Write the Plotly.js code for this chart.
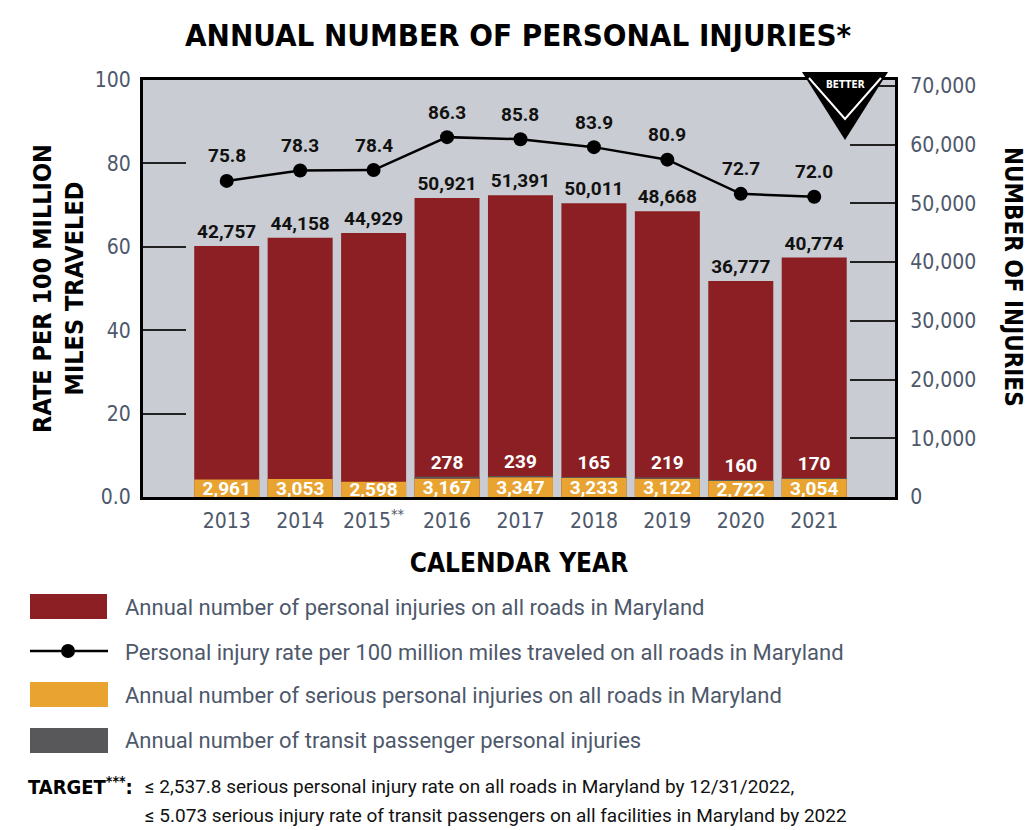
<!DOCTYPE html>
<html>
<head>
<meta charset="utf-8">
<script src="https://cdn.plot.ly/plotly-3.0.1.min.js"></script>
<style>
  html, body { margin: 0; padding: 0; background: #ffffff; }
  #chart { width: 1030px; height: 830px; }
</style>
</head>
<body>
<div id="chart"></div>
<script>
// ---- Data ----
const years = ['2013', '2014', '2015', '2016', '2017', '2018', '2019', '2020', '2021'];
const yearLabels = ['2013', '2014', '2015<sup>**</sup>', '2016', '2017', '2018', '2019', '2020', '2021'];
const injuries = [42757, 44158, 44929, 50921, 51391, 50011, 48668, 36777, 40774];
const injuryRate = [75.8, 78.3, 78.4, 86.3, 85.8, 83.9, 80.9, 72.7, 72.0];
const seriousInjuries = [2961, 3053, 2598, 3167, 3347, 3233, 3122, 2722, 3054];
const transitInjuries = [null, null, null, 278, 239, 165, 219, 160, 170];

const rateTickVals = [0, 20, 40, 60, 80, 100];
const rateTickText = ['0.0', '20', '40', '60', '80', '100'];
const countTickVals = [0, 10000, 20000, 30000, 40000, 50000, 60000, 70000];

const legendLabels = [
  'Annual number of personal injuries on all roads in Maryland',
  'Personal injury rate per 100 million miles traveled on all roads in Maryland',
  'Annual number of serious personal injuries on all roads in Maryland',
  'Annual number of transit passenger personal injuries'
];
const titleText = 'ANNUAL NUMBER OF PERSONAL INJURIES*';
const targetLabel = 'TARGET<sup>***</sup>:';
const targetLine1 = '≤ 2,537.8 serious personal injury rate on all roads in Maryland by 12/31/2022,';
const targetLine2 = '≤ 5.073 serious injury rate of transit passengers on all facilities in Maryland by 2022';

// ---- Style ----
const RED = '#8b1f24', YELLOW = '#e8a331', GRAY = '#58585a';
const TICK_COLOR = '#4e586b';
const COND = '"Liberation Sans Narrow", "DejaVu Sans Condensed", Roboto, sans-serif';
const BODY = 'Roboto, "Noto Sans", sans-serif';

// plot area in pixels
const L = 143, R = 895, T = 80, B = 497;
const px = x => (x - L) / (R - L);
const py = y => (B - y) / (B - T);

// transit bars only for years that have data
const tIdx = transitInjuries.map((v, i) => v == null ? -1 : i).filter(i => i >= 0);
const transitX = tIdx.map(i => years[i]);
const transitY = tIdx.map(i => transitInjuries[i]);
const transitBase = tIdx.map(i => seriousInjuries[i]);

const traces = [
  {
    type: 'bar', name: legendLabels[0], x: years, y: injuries, yaxis: 'y',
    marker: {color: RED}, showlegend: false,
    texttemplate: '%{y:,}', textposition: 'outside', textangle: 0, cliponaxis: false,
    outsidetextfont: {family: BODY, size: 19, color: '#111', weight: 'bold'},
    hoverinfo: 'x+y'
  },
  {
    type: 'bar', name: legendLabels[2], x: years, y: seriousInjuries, yaxis: 'y',
    marker: {color: YELLOW}, showlegend: false,
    texttemplate: '%{y:,}', textposition: 'inside', insidetextanchor: 'middle',
    constraintext: 'none', textangle: 0,
    insidetextfont: {family: BODY, size: 19, color: '#ffffff', weight: 'bold'},
    hoverinfo: 'x+y'
  },
  {
    type: 'bar', name: legendLabels[3], x: transitX, y: transitY, base: transitBase, yaxis: 'y',
    marker: {color: GRAY}, showlegend: false,
    text: transitY.map(String),
    texttemplate: '%{text}', textposition: 'outside', textangle: 0, constraintext: 'none', cliponaxis: false,
    outsidetextfont: {family: BODY, size: 19, color: '#ffffff', weight: 'bold'},
    hoverinfo: 'x+text'
  },
  {
    type: 'scatter', mode: 'lines+markers', name: legendLabels[1],
    x: years, y: injuryRate, yaxis: 'y2', showlegend: false,
    line: {color: '#000', width: 2.5},
    marker: {color: '#000', size: 14},
    cliponaxis: false
  }
];

const annotations = [];
// rate labels above markers (x given as category index on the category axis)
injuryRate.forEach((v, i) => {
  annotations.push({
    x: i, y: v, xref: 'x', yref: 'y2', yshift: 25,
    xanchor: 'center', yanchor: 'middle',
    text: '<b>' + v.toFixed(1) + '</b>', showarrow: false,
    font: {family: BODY, size: 19, color: '#111'}
  });
});

// right axis title
annotations.push({
  xref: 'paper', yref: 'paper', x: px(1013), y: py(277),
  xanchor: 'center', yanchor: 'middle',
  text: '<b>NUMBER OF INJURIES</b>', textangle: 90, showarrow: false,
  font: {family: COND, size: 24, color: '#000'}
});

// BETTER label
annotations.push({
  xref: 'paper', yref: 'paper', x: px(845), y: py(84),
  xanchor: 'center', yanchor: 'middle',
  text: '<b>BETTER</b>', showarrow: false,
  font: {family: COND, size: 10, color: '#fff'}
});

// legend texts
const legendY = [607, 652, 695, 740];
legendLabels.forEach((t, i) => {
  annotations.push({
    xref: 'paper', yref: 'paper', x: px(123), y: py(legendY[i]),
    xanchor: 'left', yanchor: 'middle', text: t, showarrow: false,
    font: {family: BODY, size: 22, color: TICK_COLOR}
  });
});

// target text
annotations.push({
  xref: 'paper', yref: 'paper', x: px(26), y: py(786),
  xanchor: 'left', yanchor: 'middle', text: '<b>' + targetLabel + '</b>', showarrow: false,
  font: {family: COND, size: 20, color: '#000'}
});
annotations.push({
  xref: 'paper', yref: 'paper', x: px(143), y: py(786),
  xanchor: 'left', yanchor: 'middle', text: targetLine1, showarrow: false,
  font: {family: BODY, size: 19, color: '#111'}
});
annotations.push({
  xref: 'paper', yref: 'paper', x: px(143), y: py(815),
  xanchor: 'left', yanchor: 'middle', text: targetLine2, showarrow: false,
  font: {family: BODY, size: 19, color: '#111'}
});

const shapes = [
  // BETTER arrow
  {type: 'path', xref: 'paper', yref: 'paper', layer: 'above',
   path: `M ${px(802)} ${py(72)} L ${px(888)} ${py(72)} L ${px(845)} ${py(140)} Z`,
   fillcolor: '#000', line: {width: 0}},
  {type: 'path', xref: 'paper', yref: 'paper', layer: 'above',
   path: `M ${px(809)} ${py(78)} L ${px(845)} ${py(119)} L ${px(881)} ${py(78)}`,
   line: {color: '#fff', width: 2}},
  // legend swatches
  {type: 'rect', xref: 'paper', yref: 'paper', x0: px(30), x1: px(107), y0: py(594), y1: py(619),
   fillcolor: RED, line: {width: 0}},
  {type: 'line', xref: 'paper', yref: 'paper', x0: px(30), x1: px(108), y0: py(651), y1: py(651),
   line: {color: '#000', width: 2.5}},
  {type: 'circle', xref: 'paper', yref: 'paper', x0: px(61), x1: px(75), y0: py(644), y1: py(658),
   fillcolor: '#000', line: {width: 0}},
  {type: 'rect', xref: 'paper', yref: 'paper', x0: px(30), x1: px(108), y0: py(682), y1: py(707),
   fillcolor: YELLOW, line: {width: 0}},
  {type: 'rect', xref: 'paper', yref: 'paper', x0: px(30), x1: px(108), y0: py(728), y1: py(753),
   fillcolor: GRAY, line: {width: 0}}
];

const layout = {
  width: 1030, height: 830,
  margin: {l: L, r: 1030 - R, t: T, b: 830 - B, pad: 0},
  paper_bgcolor: '#ffffff',
  plot_bgcolor: '#c9ccd2',
  showlegend: false,
  barmode: 'overlay',
  bargap: 0.115,
  title: {
    text: '<b>' + titleText + '</b>',
    x: 0.503, xanchor: 'center', y: 1 - 35 / 830, yanchor: 'middle', yref: 'container',
    font: {family: COND, size: 31, color: '#000'}
  },
  xaxis: {
    type: 'category', range: [-1.14, 9.1],
    tickvals: years, ticktext: yearLabels,
    showline: true, linecolor: '#000', linewidth: 3, mirror: true,
    ticks: '', showgrid: false, zeroline: false,
    ticklabelstandoff: 3,
    tickfont: {family: COND, size: 21, color: TICK_COLOR},
    title: {text: '<b>CALENDAR YEAR</b>', standoff: 22,
            font: {family: COND, size: 26, color: '#000'}}
  },
  yaxis: {
    side: 'right', range: [0, 71000],
    tickvals: countTickVals, tickformat: ',',
    showline: true, linecolor: '#000', linewidth: 3,
    ticks: 'inside', ticklen: 45, tickwidth: 2, tickcolor: '#222',
    showgrid: false, zeroline: false,
    ticklabelstandoff: 8,
    tickfont: {family: COND, size: 21, color: TICK_COLOR}
  },
  yaxis2: {
    overlaying: 'y', side: 'left', range: [0, 100],
    tickvals: rateTickVals, ticktext: rateTickText,
    showline: true, linecolor: '#000', linewidth: 3,
    ticks: 'inside', ticklen: 43, tickwidth: 2, tickcolor: '#222',
    showgrid: false, zeroline: false,
    ticklabelstandoff: 5,
    tickfont: {family: COND, size: 21, color: TICK_COLOR},
    title: {text: '<b>RATE PER 100 MILLION<br>MILES TRAVELED</b>', standoff: 4,
            font: {family: COND, size: 25, color: '#000'}}
  },
  annotations: annotations,
  shapes: shapes
};

Plotly.newPlot('chart', traces, layout, {displayModeBar: false, staticPlot: true});
</script>
</body>
</html>
